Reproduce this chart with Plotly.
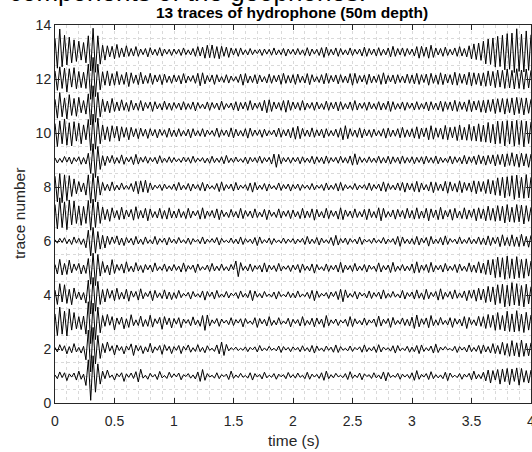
import numpy as np
import plotly.graph_objects as go

# ---------------- data (amplitudes in hundredths of a trace spacing) ----------------
T_START, T_END = 0.0, 4.0
X_TICKS = [0, 0.5, 1, 1.5, 2, 2.5, 3, 3.5, 4]
X_TICK_TEXT = ["0", "0.5", "1", "1.5", "2", "2.5", "3", "3.5", "4"]
Y_TICKS = [0, 2, 4, 6, 8, 10, 12, 14]
Y_TICK_TEXT = ["0", "2", "4", "6", "8", "10", "12", "14"]

TRACE_1 = [4,-10,15,-6,12,-17,8,-4,11,-15,18,-12,7,
    -35,60,-90,75,-60,45,-30,
    18,-10,22,-6,4,-15,9,-3,12,-20, 8,-5,11,-9,16,-22,25,-8,3,-12,
    10,-4,6,-13,17,-7,2,-9,14,-6, 8,-3,11,-14,5,-2,9,-8,4,-11,
    15,-20,24,-16,9,-4,3,-8,12,-10, 5,-2,7,-13,18,-9,4,-6,10,-5,
    2,-8,12,-15,9,-4,6,-11,14,-7, 3,-5,9,-12,7,-3,5,-10,13,-6,
    5,-8,11,-5,3,-10,14,-12,7,-4, 6,-9,12,-16,18,-10,5,-7,10,-3,
    2,-6,9,-13,16,-9,4,-6,11,-14, 8,-2,5,-9,12,-7,4,-11,15,-18,
    13,-6,3,-5,10,-12,7,-4,6,-9, 12,-16,20,-12,6,-4,9,-13,16,-10,
    5,-7,4,-10,14,-17,11,-5,3,-6, 9,-12,7,-4,10,-14,18,-11,6,-10,
    14,-18,22,-26,20,-15,24,-30,26,-21,28,-32,26,-20,30,-34,28,-23,20,-26,22]

TRACE_2 = [6,-11,16,-7,12,-18,9,-14,20,-11,6,-15,10,
    -40,70,-85,80,-55,50,-35,
    20,-14,26,-8,12,-22,15,-6,9,-18, 11,-4,19,-24,14,-7,12,-17,8,-11,
    21,-15,8,-5,13,-20,16,-6,10,-17, 9,-5,13,-17,10,-4,15,-12,5,-9,
    16,-10,6,-14,12,-5,3,-9,15,-18, 26,-24,17,-7,5,-3,7,-6,3,-5,
    8,-10,6,-3,8,-11,13,-7,4,-6, 10,-5,3,-7,11,-13,9,-4,6,-10,
    8,-4,6,-10,12,-7,5,-11,13,-15, 11,-6,4,-9,11,-5,7,-12,15,-13,
    9,-5,3,-7,11,-9,6,-3,8,-12, 15,-10,5,-7,9,-13,16,-11,7,-3,
    5,-8,12,-15,13,-7,4,-6,10,-12, 7,-10,13,-17,15,-9,5,-7,11,-15,
    18,-13,7,-4,9,-3,2,-7,10,-13, 9,-4,7,-11,15,-10,6,-9,13,-17,
    15,-11,9,-15,20,-17,13,-19,25,-23,20,-27,31,-25,23,-29,33,-27,21,-25,23]

TRACE_3 = [30,-50,55,-45,40,-52,48,-30,35,-25,20,-28,22,
    -45,75,-80,70,-65,55,-40,
    24,-16,28,-12,20,-30,15,-9,18,-25, 12,-20,27,-14,8,-13,22,-17,9,-16,
    25,-19,12,-6,17,-27,20,-10,15,-22, 13,-8,16,-21,11,-5,9,-14,19,-11,
    7,-16,24,-31,26,-15,8,-6,13,-16, 11,-4,7,-10,16,-13,9,-4,12,-18,
    13,-6,4,-9,16,-20,13,-7,10,-15, 20,-13,6,-11,16,-9,4,-7,14,-18,
    10,-6,9,-15,20,-13,6,-10,14,-18, 15,-8,11,-20,24,-14,8,-6,11,-13,
    7,-4,10,-16,20,-17,12,-7,6,-11, 15,-12,8,-4,11,-17,22,-15,10,-6,
    13,-20,17,-10,6,-8,15,-13,10,-15, 18,-24,26,-18,12,-9,15,-21,24,-14,
    8,-12,17,-9,6,-11,16,-20,13,-8, 11,-15,20,-24,17,-10,8,-14,21,-16,
    20,-24,28,-20,25,-31,35,-28,24,-33,40,-35,30,-37,42,-34,29,-39,36,-30,26]

TRACE_4 = [18,-35,42,-26,38,-31,21,-36,26,-14,11,-18,9,
    -30,55,-70,65,-60,50,-35,
    20,-26,23,-12,17,-21,25,-16,10,-15, 21,-23,15,-8,13,-19,23,-14,9,-6,
    15,-21,17,-10,8,-13,19,-15,11,-17, 9,-13,17,-10,6,-4,10,-15,13,-7,
    5,-9,15,-19,13,-6,11,-15,17,-9, 4,-8,13,-11,7,-3,9,-13,15,-8,
    6,-10,17,-21,15,-8,6,-11,13,-6, 4,-8,11,-15,13,-6,3,-7,12,-10,
    7,-11,15,-8,4,-6,10,-13,17,-21, 15,-9,6,-4,9,-13,11,-6,13,-17,
    21,-25,19,-10,6,-8,13,-15,10,-4, 7,-11,15,-13,9,-6,11,-15,19,-12,
    6,-9,13,-8,4,-11,17,-15,9,-6, 11,-15,19,-12,8,-17,21,-14,10,-6,
    13,-19,23,-16,10,-8,13,-15,19,-12, 8,-10,15,-21,17,-12,19,-23,25,-18,
    22,-28,32,-25,30,-36,38,-31,40,-44,36,-41,46,-37,42,-40,35,-44,40,-33,31]

TRACE_5 = [13,-22,32,-26,17,-24,29,-18,15,-9,17,-22,11,
    -20,35,-60,55,-65,50,-30,
    24,-17,11,-26,31,-20,13,-9,15,-19, 23,-13,7,-15,20,-11,9,-17,13,-7,
    11,-15,19,-10,5,-9,15,-13,7,-11, 13,-9,7,-15,19,-13,9,-5,11,-17,
    15,-9,5,-7,11,-13,17,-11,7,-10, 15,-9,5,-11,13,-7,26,-32,20,-9,
    7,-11,15,-13,9,-5,10,-15,19,-15, 11,-7,9,-13,17,-11,7,-5,9,-13,
    11,-7,13,-17,15,-9,7,-11,15,-19, 13,-7,5,-10,15,-13,9,-7,11,-15,
    21,-17,11,-7,9,-13,17,-11,7,-9, 13,-15,11,-5,7,-13,19,-15,9,-7,
    11,-17,21,-13,7,-9,13,-11,7,-10, 15,-19,23,-17,11,-9,13,-17,21,-15,
    9,-7,11,-15,17,-11,7,-9,13,-17, 15,-10,7,-13,19,-15,11,-17,23,-19,
    18,-24,30,-26,32,-36,40,-34,38,-42,44,-38,34,-40,42,-36,32,-38,34,-30,26]

TRACE_6 = [5,-8,10,-6,12,-10,7,-13,15,-8,10,-13,8,
    -25,40,-55,50,-45,35,-30,
    21,-26,18,-13,15,-9,19,-15,11,-17, 13,-7,10,-15,17,-11,7,-13,15,-9,
    5,-11,17,-13,9,-5,11,-15,13,-7, 7,-10,13,-7,5,-9,11,-13,9,-4,
    6,-10,15,-11,7,-5,9,-7,13,-15, 10,-5,3,-7,11,-9,7,-11,15,-13,
    9,-5,7,-10,13,-17,15,-9,5,-7, 11,-13,9,-6,4,-8,11,-9,7,-5,
    9,-11,7,-5,10,-13,17,-11,7,-9, 13,-15,11,-7,5,-9,13,-17,21,-15,
    9,-7,11,-13,9,-5,7,-11,15,-13, 7,-4,6,-9,11,-7,5,-8,13,-11,
    7,-5,9,-13,17,-20,15,-9,7,-11, 9,-13,17,-15,11,-7,13,-19,17,-11,
    7,-9,13,-15,19,-13,9,-5,7,-11, 15,-10,6,-9,13,-11,7,-10,15,-13,
    11,-15,19,-17,13,-10,15,-21,23,-17,13,-19,23,-20,15,-21,25,-19,17,-23,21]

TRACE_7 = [35,-55,60,-50,45,-58,52,-40,48,-35,30,-42,28,
    -35,50,-60,55,-50,45,-35,
    26,-21,17,-27,23,-15,13,-21,25,-19, 15,-11,17,-23,27,-17,13,-15,21,-25,
    19,-13,9,-15,21,-17,13,-19,23,-15, 11,-15,19,-13,9,-17,21,-15,11,-7,
    13,-19,23,-17,11,-9,13,-15,19,-21, 15,-10,7,-13,17,-11,9,-15,21,-17,
    13,-9,11,-15,19,-13,7,-11,17,-21, 15,-9,7,-13,19,-15,11,-9,13,-17,
    15,-11,9,-17,21,-15,11,-13,19,-23, 17,-11,9,-15,21,-17,13,-9,11,-19,
    23,-21,15,-9,11,-15,19,-13,9,-11, 17,-21,19,-13,9,-15,23,-25,21,-13,
    9,-11,15,-19,17,-11,13,-17,21,-15, 13,-19,23,-17,11,-15,21,-25,19,-13,
    15,-21,25,-19,13,-11,17,-23,21,-15, 11,-17,23,-19,15,-13,19,-25,23,-17,
    19,-25,29,-23,21,-27,31,-25,29,-33,35,-29,25,-31,35,-29,33,-37,31,-27,25]

TRACE_8 = [40,-55,50,-58,45,-50,42,-35,30,-25,20,-18,15,
    -30,45,-60,50,-55,40,-30,
    17,-13,10,-15,19,-13,7,-11,15,-9, 6,-9,13,-17,21,-25,23,-19,25,-21,
    15,-11,7,-5,9,-13,11,-7,5,-9, 11,-13,17,-11,7,-9,13,-15,11,-7,
    9,-13,17,-15,11,-7,5,-9,13,-17, 19,-13,9,-7,11,-15,17,-11,7,-5,
    9,-13,15,-19,17,-11,7,-9,13,-15, 11,-7,5,-10,15,-13,9,-7,11,-15,
    9,-7,11,-13,9,-5,7,-10,13,-11, 7,-5,9,-13,15,-11,7,-9,13,-15,
    17,-13,9,-7,5,-9,13,-11,7,-5, 9,-11,15,-13,9,-7,11,-15,19,-17,
    13,-9,7,-11,15,-13,17,-19,15,-11, 13,-17,21,-19,15,-11,9,-15,19,-21,
    17,-13,11,-15,21,-23,19,-15,13,-19, 23,-21,17,-13,15,-19,23,-25,21,-17,
    20,-24,28,-26,24,-30,34,-32,36,-40,38,-34,42,-46,44,-40,36,-42,46,-40,36]

TRACE_9 = [8,-11,6,-9,13,-8,11,-15,9,-6,12,-16,9,
    -15,25,-50,60,-65,50,-35,
    16,-21,14,-10,17,-14,9,-12,19,-16, 10,-7,12,-17,21,-15,10,-8,13,-12,
    9,-7,10,-14,16,-10,7,-9,12,-10, 9,-7,5,-9,11,-7,9,-12,14,-9,
    7,-5,9,-11,7,-12,14,-10,7,-9, 12,-14,17,-10,7,-9,11,-7,5,-9,
    11,-14,10,-7,9,-10,14,-12,9,-7, 10,-15,22,-27,21,-14,9,-7,10,-12,
    9,-7,10,-14,12,-9,7,-10,14,-15, 12,-9,10,-14,15,-12,9,-7,10,-12,
    14,-10,9,-12,15,-19,23,-17,12,-9, 7,-10,12,-9,7,-10,14,-12,9,-11,
    14,-15,12,-9,10,-14,15,-12,9,-10, 12,-14,10,-9,12,-15,14,-10,9,-12,
    15,-14,10,-9,7,-10,14,-15,12,-9, 10,-14,17,-15,12,-10,14,-17,19,-14,
    15,-19,17,-14,19,-22,20,-17,22,-25,23,-20,27,-23,22,-27,25,-22,23,-27,22]

TRACE_10 = [35,-50,45,-40,52,-45,38,-48,42,-30,36,-40,30,
    -25,50,-65,70,-60,55,-40,
    30,-25,23,-31,27,-19,25,-30,23,-16, 20,-25,21,-14,16,-21,18,-12,14,-20,
    16,-11,13,-18,14,-9,12,-16,18,-13, 11,-14,16,-12,9,-11,14,-18,16,-11,
    9,-12,16,-14,11,-7,9,-12,18,-16, 12,-9,11,-14,19,-18,14,-11,9,-12,
    16,-19,18,-12,11,-9,12,-16,14,-11, 9,-7,11,-14,18,-16,12,-11,14,-18,
    20,-23,25,-21,17,-12,11,-14,19,-16, 12,-11,14,-18,16,-12,9,-11,14,-16,
    19,-25,27,-21,16,-12,11,-16,19,-18, 14,-11,12,-16,14,-11,9,-12,16,-19,
    18,-14,11,-12,16,-18,21,-16,12,-14, 16,-19,23,-21,18,-14,19,-25,27,-23,
    19,-16,18,-23,28,-25,21,-18,23,-28, 30,-25,21,-27,32,-28,25,-30,34,-32,
    29,-34,39,-36,32,-41,44,-39,43,-48,46,-41,44,-49,47,-43,46,-51,44,-39,41]

TRACE_11 = [25,-45,50,-40,30,-48,42,-35,28,-38,32,-25,20,
    -30,45,-70,75,-60,50,-40,
    25,-21,18,-25,28,-20,15,-18,23,-16, 13,-20,21,-15,11,-16,20,-18,13,-9,
    15,-20,16,-11,9,-15,18,-13,11,-16, 13,-9,11,-15,16,-13,9,-12,15,-18,
    13,-9,7,-11,15,-16,13,-9,11,-15, 18,-13,9,-7,11,-15,16,-18,13,-11,
    15,-16,20,-15,11,-9,13,-18,21,-25, 23,-20,15,-11,13,-16,20,-23,21,-16,
    15,-11,13,-16,20,-15,11,-9,13,-16, 15,-11,9,-13,18,-16,13,-11,15,-18,
    16,-13,9,-11,15,-16,20,-15,11,-9, 13,-16,15,-11,9,-13,16,-15,11,-13,
    18,-20,16,-13,9,-11,15,-16,13,-9, 11,-15,16,-13,9,-11,15,-18,16,-13,
    11,-15,18,-20,16,-13,15,-18,21,-20, 16,-13,15,-20,23,-21,18,-15,20,-23,
    21,-25,23,-20,25,-28,27,-23,28,-30,27,-25,30,-33,32,-28,30,-33,30,-27,25]

TRACE_12 = [30,-42,45,-35,40,-48,38,-30,42,-36,28,-32,25,
    -35,55,-75,80,-65,55,-40,
    27,-23,30,-25,20,-23,28,-21,16,-20, 25,-28,23,-16,15,-21,25,-18,13,-16,
    21,-20,15,-11,16,-21,18,-13,11,-16, 15,-11,13,-18,20,-15,11,-9,13,-16,
    21,-25,23,-18,13,-11,15,-20,16,-11, 9,-13,16,-15,11,-8,9,-13,18,-23,
    20,-15,11,-13,16,-18,15,-11,9,-15, 18,-16,13,-11,15,-20,21,-16,13,-15,
    16,-20,18,-13,11,-15,20,-21,16,-11, 9,-13,16,-18,21,-16,13,-11,15,-18,
    16,-13,11,-15,20,-23,21,-16,13,-11, 15,-20,18,-15,11,-13,16,-20,23,-18,
    13,-11,15,-18,16,-13,11,-15,18,-16, 15,-18,21,-20,16,-13,18,-23,21,-16,
    15,-20,23,-21,18,-15,16,-21,25,-23, 20,-16,18,-21,25,-26,23,-20,21,-25,
    23,-27,30,-25,28,-32,33,-30,32,-35,37,-33,32,-37,38,-35,33,-38,37,-33,32]

TRACE_13 = [50,-60,85,-55,62,-48,55,-40,45,-35,40,-30,35,
    -40,60,-70,88,-75,60,-45,
    25,-30,23,-18,21,-25,28,-20,15,-18, 23,-16,13,-15,20,-16,11,-10,13,-18,
    16,-11,10,-13,16,-15,11,-8,10,-13, 11,-8,10,-13,15,-10,8,-11,13,-16,
    20,-15,18,-23,25,-21,26,-23,20,-25, 21,-16,18,-20,15,-11,13,-16,15,-10,
    8,-11,13,-10,8,-6,10,-13,11,-8, 10,-12,15,-11,8,-10,13,-15,11,-8,
    10,-11,13,-10,8,-13,16,-15,11,-8, 10,-13,16,-20,18,-13,10,-11,15,-16,
    13,-10,8,-11,15,-13,10,-8,11,-15, 18,-16,13,-10,11,-15,16,-13,10,-11,
    15,-18,21,-16,13,-11,15,-16,13,-10, 11,-15,20,-23,21,-16,18,-23,25,-20,
    15,-11,13,-16,18,-13,10,-11,15,-16, 20,-15,13,-18,23,-26,30,-28,33,-31,
    40,-44,48,-46,52,-56,58,-54,62,-66,68,-64,70,-76,86,-72,66,-74,78,-68,64]

TRACES = [TRACE_1, TRACE_2, TRACE_3, TRACE_4, TRACE_5, TRACE_6, TRACE_7,
          TRACE_8, TRACE_9, TRACE_10, TRACE_11, TRACE_12, TRACE_13]
AMP_UNIT = 0.01  # stored values are in hundredths of one trace spacing

TITLE = "13 traces of hydrophone (50m depth)"
X_LABEL = "time (s)"
Y_LABEL = "trace number"
PAGE_TEXT = "components of the geophones."

# ---------------- figure ----------------
FONT = "Arial, 'Liberation Sans', Helvetica, sans-serif"
W, H = 532, 452
ML, MR, MT, MB = 55, 1, 25, 49
PW, PH = W - ML - MR, H - MT - MB

fig = go.Figure()
for k, vals in enumerate(TRACES, start=1):
    t = np.linspace(T_START, T_END, len(vals))
    y = k + np.asarray(vals, dtype=float) * AMP_UNIT
    fig.add_trace(go.Scatter(x=t, y=y, mode="lines",
                             line=dict(color="#000000", width=1),
                             hoverinfo="skip", showlegend=False))

GRID = "#d9d9d9"
AX = "#262626"
common = dict(ticks="inside", ticklen=5, tickwidth=1, tickcolor=AX,
              showline=True, linecolor=AX, linewidth=1, mirror="ticks",
              showgrid=True, gridcolor=GRID, griddash="dot", gridwidth=1,
              zeroline=False, automargin=False,
              tickfont=dict(family=FONT, size=14, color=AX))

fig.update_xaxes(range=[0, 4], tickmode="array", tickvals=X_TICKS, ticktext=X_TICK_TEXT,
                 ticklabeloverflow="allow", ticklabelstandoff=5,
                 minor=dict(dtick=0.1, showgrid=True, gridcolor=GRID, griddash="dot", gridwidth=1),
                 **common)
fig.update_yaxes(range=[0, 14], tickmode="array", tickvals=Y_TICKS, ticktext=Y_TICK_TEXT,
                 minor=dict(dtick=0.5, showgrid=True, gridcolor=GRID, griddash="dot", gridwidth=1),
                 **common)

def py(px):  # pixel row (from top of window) -> paper y
    return 1 - (px - MT) / PH

def pxp(px):  # pixel column -> paper x
    return (px - ML) / PW

annotations = [
    dict(text="<b>%s</b>" % TITLE, x=pxp(292), y=py(12.5), xref="paper", yref="paper",
         xanchor="center", yanchor="middle", showarrow=False,
         font=dict(family=FONT, size=15.5, color="#000000")),
    dict(text=X_LABEL, x=pxp(294), y=py(440), xref="paper", yref="paper",
         xanchor="center", yanchor="middle", showarrow=False,
         font=dict(family=FONT, size=15.5, color=AX)),
    dict(text=Y_LABEL, x=pxp(19), y=py(214), xref="paper", yref="paper", textangle=-90,
         xanchor="center", yanchor="middle", showarrow=False,
         font=dict(family=FONT, size=15.5, color=AX)),
    dict(text=PAGE_TEXT, x=pxp(7), y=py(-8), xref="paper", yref="paper",
         xanchor="left", yanchor="middle", showarrow=False,
         font=dict(family=FONT, size=26, color="#000000")),
]

fig.update_layout(width=W, height=H, template="none",
                  margin=dict(l=ML, r=MR, t=MT, b=MB, pad=0),
                  paper_bgcolor="#ffffff", plot_bgcolor="#ffffff",
                  showlegend=False, annotations=annotations)

fig.write_html("out.html")
